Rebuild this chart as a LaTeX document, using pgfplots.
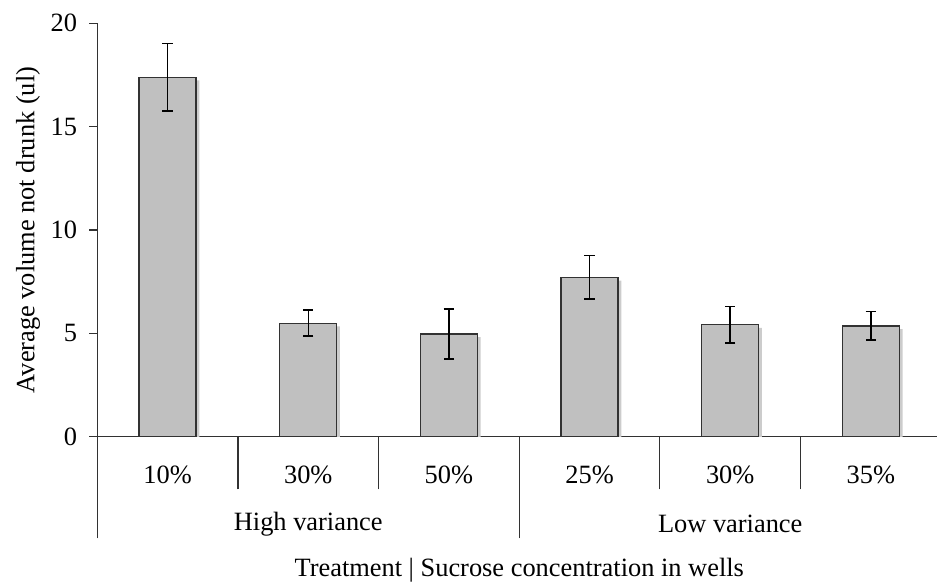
\documentclass[border=0pt]{standalone}
\usepackage{pgfplots}
\pgfplotsset{compat=1.18}
\usepackage{fontspec}
\setmainfont{Liberation Serif}
\definecolor{barfill}{RGB}{192,192,192}
\definecolor{linec}{RGB}{50,50,50}
\pgfplotstableread{
x y err
0 17.39 1.63
1 5.49 0.63
2 4.97 1.21
3 7.71 1.05
4 5.42 0.88
5 5.36 0.69
}\datatable
\begin{document}
\fontsize{13.2}{15.8}\selectfont
\begin{tikzpicture}
\useasboundingbox (-48.65pt,-73.15pt) rectangle (419.85pt,218.35pt);
\begin{axis}[
  anchor=south west, at={(0,0)},
  scale only axis, width=419.85pt, height=206.7pt,
  xmin=-0.5, xmax=5.47, ymin=0, ymax=20,
  axis x line*=bottom, axis y line*=left,
  axis line style={-, draw=linec, line width=0.7pt},
  clip mode=individual,
  /pgf/number format/assume math mode=true,
  tick align=outside,
  major tick length=4pt,
  minor tick length=26.3pt,
  ytick={0,5,10,15,20},
  ytick style={draw=linec, line width=0.6pt},
  yticklabel style={xshift=-1.5pt},
  xtick={0,1,2,3,4,5},
  xticklabels={10\%,30\%,50\%,25\%,30\%,35\%},
  major x tick style={draw=none},
  minor xtick={0.5,1.5,3.5,4.5},
  minor x tick style={draw=linec, line width=0.55pt},
  extra x ticks={-0.5,2.5},
  extra x tick labels={},
  extra x tick style={major tick length=50.8pt, major x tick style={draw=linec, line width=0.55pt}},
  xticklabel style={anchor=center, yshift=-15.2pt},
  ylabel={Average volume not drunk (ul)},
  ylabel style={at={(axis description cs:-0.0826,0.5)}, rotate=0, anchor=center},
  ybar, bar width=28.5pt,
]
\addplot[
  fill=barfill, draw=linec, line width=0.7pt,
  preaction={fill=black!20, draw=none, transform canvas={shift={(1.6pt,-1.6pt)}}},
  error bars/.cd, y dir=both, y explicit,
  error bar style={line width=0.75pt, black},
  error mark options={rotate=90, mark size=2.6pt, line width=0.75pt, black},
] table[x=x, y=y, y error=err] {\datatable};
\node[anchor=center] at (axis cs:1,0) [yshift=-43.7pt] {High variance};
\node[anchor=center] at (axis cs:4,0) [yshift=-43.7pt] {Low variance};
\node[anchor=center] at (axis cs:2.5,0) [yshift=-66.7pt] {Treatment | Sucrose concentration in wells};
\end{axis}
\end{tikzpicture}
\end{document}
